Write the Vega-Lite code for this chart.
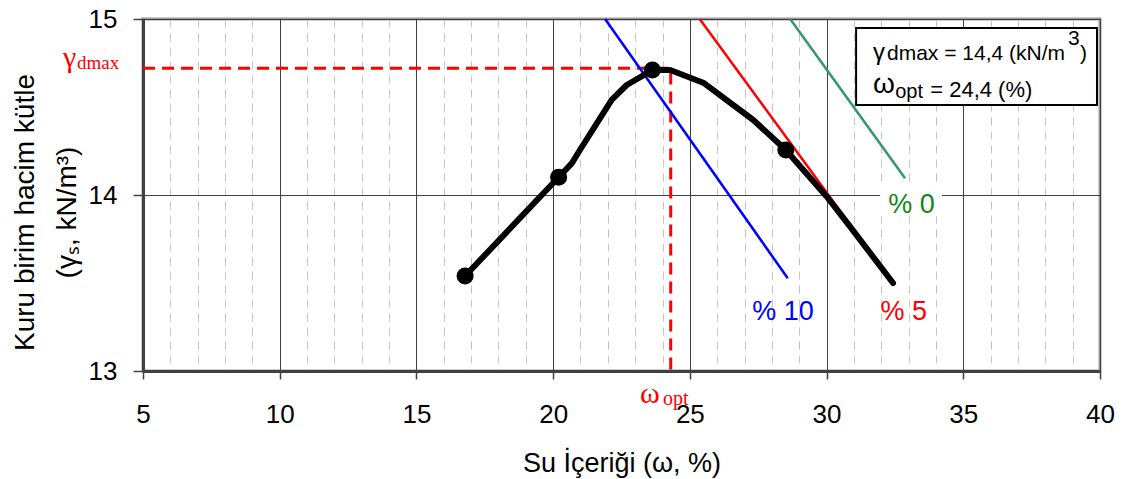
{
  "$schema": "https://vega.github.io/schema/vega-lite/v6.json",
  "width": 957,
  "height": 352,
  "autosize": {"type": "none"},
  "padding": {"left": 143, "top": 19, "right": 40, "bottom": 108},
  "background": "white",
  "config": {"view": {"stroke": "#9a9a9a", "strokeWidth": 3}, "font": "Liberation Sans"},
  "datasets": {
    "curve": [
      {"x": 16.78, "y": 13.54},
      {"x": 20.2, "y": 14.101},
      {"x": 20.68, "y": 14.18},
      {"x": 20.98, "y": 14.256},
      {"x": 22.14, "y": 14.54},
      {"x": 22.69, "y": 14.625},
      {"x": 23.63, "y": 14.71},
      {"x": 24.28, "y": 14.71},
      {"x": 25.49, "y": 14.638},
      {"x": 27.32, "y": 14.426},
      {"x": 28.51, "y": 14.256},
      {"x": 30.01, "y": 13.99},
      {"x": 30.86, "y": 13.82},
      {"x": 32.43, "y": 13.5}
    ],
    "markers": [
      {"x": 16.78, "y": 13.54},
      {"x": 20.2, "y": 14.101},
      {"x": 23.63, "y": 14.71},
      {"x": 28.51, "y": 14.256}
    ],
    "zav": [
      {"s": "10", "x": 21.9, "y": 15},
      {"s": "10", "x": 28.58, "y": 13.527},
      {"s": "5", "x": 25.36, "y": 15},
      {"s": "5", "x": 32.44, "y": 13.497},
      {"s": "0", "x": 28.67, "y": 15},
      {"s": "0", "x": 32.87, "y": 14.095}
    ],
    "opt": [
      {"o": 1, "x": 5, "y": 14.72},
      {"o": 2, "x": 24.3, "y": 14.72},
      {"o": 3, "x": 24.3, "y": 12.98}
    ]
  },
  "encoding": {
    "x": {
      "field": "x", "type": "quantitative",
      "scale": {"domain": [5, 40], "nice": false, "zero": false},
      "axis": {
        "values": [5,6,7,8,9,10,11,12,13,14,15,16,17,18,19,20,21,22,23,24,25,26,27,28,29,30,31,32,33,34,35,36,37,38,39,40],
        "tickCount": 40,
        "title": "Su İçeriği (ω,  %)",
        "titleFontSize": 27, "titleFontWeight": "normal", "titleColor": "#000",
        "titleY": 100, "titleBaseline": "alphabetic",
        "labelFontSize": 26, "labelColor": "#000", "labelBaseline": "alphabetic",
        "labelPadding": 43,
        "labelExpr": "datum.value % 5 === 0 ? datum.label : ''",
        "labelFlush": false, "labelOverlap": false, "labelBound": false,
        "tickSize": 8, "tickColor": "#404040", "tickWidth": 1.5,
        "tickOpacity": {"condition": {"test": "datum.value % 5 !== 0", "value": 0}, "value": 1},
        "domainColor": "#404040", "domainWidth": 3,
        "grid": true,
        "gridColor": {"condition": {"test": "datum.value % 5 !== 0", "value": "#c4c4c4"}, "value": "#404040"},
        "gridDash": {"condition": {"test": "datum.value % 5 !== 0", "value": [8, 6]}, "value": []},
        "gridWidth": 1
      }
    },
    "y": {
      "field": "y", "type": "quantitative",
      "scale": {"domain": [13, 15], "nice": false, "zero": false},
      "axis": {
        "values": [13, 14, 15],
        "tickCount": 10,
        "labelExpr": "format(datum.value, 'd')",
        "title": ["Kuru birim hacim kütle", "(γₛ,  kN/m³)"],
        "titleFontSize": 28, "titleFontWeight": "normal", "titleColor": "#000",
        "titleAngle": 270, "titleAlign": "center", "titleBaseline": "alphabetic",
        "titleLineHeight": 42, "titleX": -110, "titleY": 193,
        "labelFontSize": 26, "labelColor": "#000", "labelPadding": 16, "labelFlush": false,
        "labelOverlap": false, "labelBound": false,
        "tickSize": 10, "tickColor": "#404040", "tickWidth": 1.5,
        "domainColor": "#404040", "domainWidth": 3,
        "grid": true, "gridColor": "#404040", "gridWidth": 1
      }
    }
  },
  "layer": [
    {
      "data": {"name": "opt"},
      "mark": {"type": "line", "color": "#ff0000", "strokeWidth": 3, "strokeDash": [12, 7]},
      "encoding": {"order": {"field": "o", "type": "quantitative"}}
    },
    {
      "data": {"name": "zav"},
      "mark": {"type": "line", "strokeWidth": 2.5},
      "encoding": {
        "color": {"field": "s", "type": "nominal", "scale": {"domain": ["0", "5", "10"], "range": ["#339966", "#ff0000", "#0000ff"]}, "legend": null}
      }
    },
    {
      "data": {"name": "curve"},
      "mark": {"type": "line", "color": "#000", "strokeWidth": 6, "strokeJoin": "round", "strokeCap": "round"}
    },
    {
      "data": {"name": "markers"},
      "mark": {"type": "point", "filled": true, "color": "#000", "opacity": 1, "size": 290}
    },
    {
      "data": {"values": [{"x": 31.96, "x2": 34.22, "y": 14.057, "y2": 13.881}]},
      "mark": {"type": "rect", "fill": "white"},
      "encoding": {"x2": {"field": "x2"}, "y2": {"field": "y2"}}
    },
    {
      "data": {"values": [{"x": 33.11, "y": 13.898, "t": "% 0"}]},
      "mark": {"type": "text", "fontSize": 27, "color": "#118811", "align": "center", "baseline": "alphabetic"},
      "encoding": {"text": {"field": "t"}}
    },
    {
      "data": {"values": [{"x": 28.41, "y": 13.29, "t": "% 10"}]},
      "mark": {"type": "text", "fontSize": 27, "color": "#0000ff", "align": "center", "baseline": "alphabetic"},
      "encoding": {"text": {"field": "t"}}
    },
    {
      "data": {"values": [{"x": 32.82, "y": 13.29, "t": "% 5"}]},
      "mark": {"type": "text", "fontSize": 27, "color": "#ff0000", "align": "center", "baseline": "alphabetic"},
      "encoding": {"text": {"field": "t"}}
    },
    {
      "data": {"values": [{"x": 31.08, "x2": 39.89, "y": 14.949, "y2": 14.511}]},
      "mark": {"type": "rect", "fill": "white", "stroke": "#000", "strokeWidth": 2},
      "encoding": {"x2": {"field": "x2"}, "y2": {"field": "y2"}}
    },
    {
      "data": {"values": [{"x": 31.7, "y": 14.767, "t": "γ"}]},
      "mark": {"type": "text", "fontSize": 24, "color": "#000", "align": "left", "baseline": "alphabetic"},
      "encoding": {"text": {"field": "t"}}
    },
    {
      "data": {"values": [
        {"x": 32.21, "y": 14.767, "t": "dmax = 14,4 (kN/m"},
        {"x": 38.83, "y": 14.852, "t": "3"},
        {"x": 39.27, "y": 14.767, "t": ")"}
      ]},
      "mark": {"type": "text", "fontSize": 21, "color": "#000", "align": "left", "baseline": "alphabetic"},
      "encoding": {"text": {"field": "t"}}
    },
    {
      "data": {"values": [{"x": 31.7, "y": 14.58, "t": "ω"}]},
      "mark": {"type": "text", "fontSize": 28, "color": "#000", "align": "left", "baseline": "alphabetic"},
      "encoding": {"text": {"field": "t"}}
    },
    {
      "data": {"values": [{"x": 32.51, "y": 14.551, "t": "opt"}]},
      "mark": {"type": "text", "fontSize": 20, "color": "#000", "align": "left", "baseline": "alphabetic"},
      "encoding": {"text": {"field": "t"}}
    },
    {
      "data": {"values": [{"x": 33.79, "y": 14.557, "t": "= 24,4 (%)"}]},
      "mark": {"type": "text", "fontSize": 22, "color": "#000", "align": "left", "baseline": "alphabetic"},
      "encoding": {"text": {"field": "t"}}
    },
    {
      "data": {"values": [{"x": 2.074, "y": 14.727, "t": "γ"}, {"x": 23.18, "y": 12.818, "t": "ω"}]},
      "mark": {"type": "text", "font": "Liberation Serif", "fontSize": 30, "color": "#ff0000", "align": "left", "baseline": "alphabetic"},
      "encoding": {"text": {"field": "t"}}
    },
    {
      "data": {"values": [{"x": 2.586, "y": 14.714, "t": "dmax"}]},
      "mark": {"type": "text", "font": "Liberation Serif", "fontSize": 19, "color": "#ff0000", "align": "left", "baseline": "alphabetic"},
      "encoding": {"text": {"field": "t"}}
    },
    {
      "data": {"values": [{"x": 24.02, "y": 12.807, "t": "opt"}]},
      "mark": {"type": "text", "font": "Liberation Serif", "fontSize": 20, "color": "#ff0000", "align": "left", "baseline": "alphabetic"},
      "encoding": {"text": {"field": "t"}}
    }
  ]
}
